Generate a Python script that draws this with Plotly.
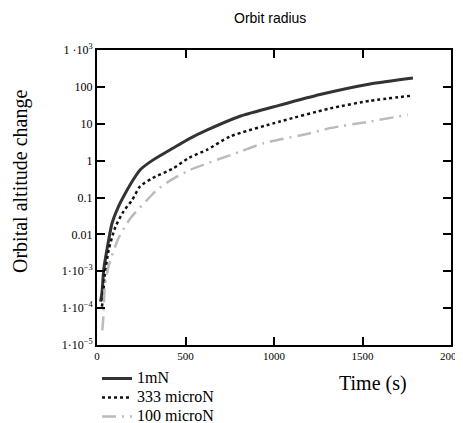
import plotly.graph_objects as go

# --- data (time in s, altitude change) ---
t_1mN = [20, 28, 38, 56, 85, 120, 160, 200, 243, 311, 431, 520, 620, 808, 1034, 1260, 1542, 1785]
v_1mN = [1.5e-4, 2.6e-4, 1.1e-3, 3.8e-3, 0.02, 0.055, 0.13, 0.28, 0.56, 1.0, 2.2, 3.9, 6.7, 16, 32, 62, 120, 175]

t_333 = [28, 34, 43, 66, 104, 150, 198, 243, 311, 431, 520, 620, 751, 1034, 1316, 1542, 1768]
v_333 = [1.1e-4, 2e-4, 7.2e-4, 3.8e-3, 0.016, 0.042, 0.085, 0.2, 0.33, 0.62, 1.2, 1.95, 4.5, 11.5, 26, 42, 57]

t_100 = [30, 36, 43, 66, 122, 188, 282, 337, 420, 525, 808, 940, 1203, 1316, 1542, 1757]
v_100 = [2.5e-5, 6e-5, 3.2e-4, 1.4e-3, 0.008, 0.027, 0.085, 0.16, 0.3, 0.56, 1.75, 2.96, 5.5, 7.6, 11.5, 17.5]

series_names = ["1mN", "333 microN", "100 microN"]

y_tickvals = [1e-5, 1e-4, 1e-3, 0.01, 0.1, 1, 10, 100, 1000]
y_ticktext = ["1·10<sup>−5</sup>", "1·10<sup>−4</sup>", "1·10<sup>−3</sup>", "0.01", "0.1", "1", "10", "100", "1 ·10<sup>3</sup>"]
x_tickvals = [0, 500, 1000, 1500, 2000]

SERIF = "Liberation Serif, Times New Roman, serif"

# page body has an 8px margin: figure starts at (8, 8) on screen.
# plot area in the reference spans x 97..451, y 50..345
OFF = 8
W, H = 447, 415
L, T = 97 - OFF, 50 - OFF
R, B = W - (451 - OFF), H - (345 - OFF)
PW, PH = 354, 295


def px(x):
    return (x - 97) / PW


def py(y):
    return (345 - y) / PH


def big(s):
    return '<span style="font-size:16px">' + s + '</span>'


fig = go.Figure()
fig.add_trace(go.Scatter(x=t_1mN, y=v_1mN, mode="lines", name=big(series_names[0]),
                         line=dict(color="#333333", width=3, shape="spline", smoothing=0.6)))
fig.add_trace(go.Scatter(x=t_333, y=v_333, mode="lines", name=big(series_names[1]),
                         line=dict(color="#111111", width=2.5, dash="3px,3px", shape="spline", smoothing=0.6)))
fig.add_trace(go.Scatter(x=t_100, y=v_100, mode="lines", name=big(series_names[2]),
                         line=dict(color="#bbbbbb", width=2.5, dash="14px,6px,2px,6px", shape="spline", smoothing=0.6)))

axis_common = dict(showline=True, linecolor="black", linewidth=2, mirror="ticks",
                   ticks="inside", ticklen=8, tickwidth=2, tickcolor="black",
                   showgrid=False, zeroline=False)

fig.update_xaxes(range=[0, 2000], tickvals=x_tickvals, ticklabeloverflow="allow",
                 tickfont=dict(family=SERIF, size=11, color="black"), **axis_common)
fig.update_yaxes(type="log", range=[-5, 3], tickvals=y_tickvals, ticktext=y_ticktext,
                 tickfont=dict(family=SERIF, size=12, color="black"), **axis_common)

fig.update_layout(
    width=W, height=H,
    margin=dict(l=L, r=R, t=T, b=B, autoexpand=False),
    paper_bgcolor="white", plot_bgcolor="white",
    showlegend=True,
    legend=dict(x=px(97), y=py(364),
                xanchor="left", yanchor="top",
                font=dict(family=SERIF, size=11.5, color="black"),
                bgcolor="rgba(0,0,0,0)", tracegroupgap=0),
    annotations=[
        dict(text="Orbit radius", xref="paper", yref="paper", x=px(270), y=py(18),
             showarrow=False, xanchor="center", yanchor="middle",
             font=dict(family="Liberation Sans, Arial, sans-serif", size=14, color="black")),
        dict(text="Orbital altitude change", xref="paper", yref="paper",
             x=px(20), y=py(182), textangle=-90,
             showarrow=False, xanchor="center", yanchor="middle",
             font=dict(family=SERIF, size=20, color="black")),
        dict(text="Time (s)", xref="paper", yref="paper",
             x=px(373), y=py(383),
             showarrow=False, xanchor="center", yanchor="middle",
             font=dict(family=SERIF, size=20, color="black")),
    ],
)

fig.write_html("out.html")
